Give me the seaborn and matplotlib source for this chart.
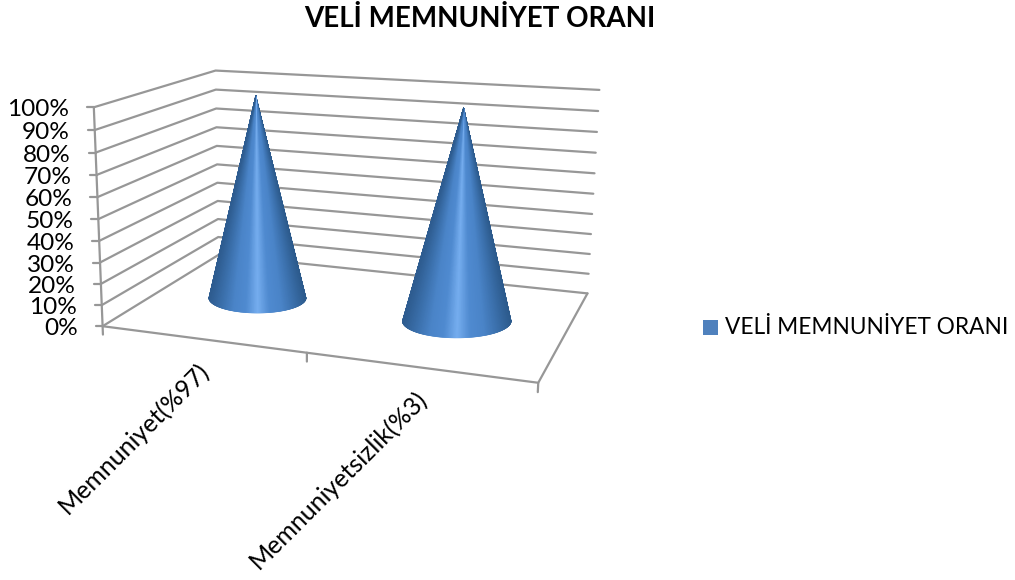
import numpy as np
import pandas as pd
import matplotlib
matplotlib.use('Agg')
import matplotlib.pyplot as plt
import seaborn as sns

#chart data
categories = ['Memnuniyet(%97)', 'Memnuniyetsizlik(%3)']
values = [98.5, 98.5]
y_ticks = [0, 10, 20, 30, 40, 50, 60, 70, 80, 90, 100]
series_name = 'VELİ MEMNUNİYET ORANI'
title = 'VELİ MEMNUNİYET ORANI'

#where the frame corners of the 3d box land on the picture (cat, value, depth) -> pixel
frame_box = [(0, 0, 0), (0, 100, 0), (0, 100, 1), (0, 0, 1), (2, 100, 1), (2, 0, 1), (2, 0, 0), (1, 0, 0)]
frame_px = [(104, 326), (92.5, 107), (217, 70.7), (217, 255), (599, 90), (588, 293), (538, 383), (307, 353)]

GRID = '#979797'
RADIUS_X = 0.258
BASE_FLAT = 0.31
shade = sns.blend_palette(['#2e5c90', '#3b70ac', '#4a84c8', '#4f8ad0', '#76aef0', '#4f8ad0', '#4a84c8', '#3b70ac', '#2c5a8c'],
                          as_cmap=True)


def fit_camera():
    #solve the projection matrix from the frame corners
    a, b = [], []
    for (x, v, z), (u, w) in zip(frame_box, frame_px):
        y = v / 100
        a.append([x, y, z, 1, 0, 0, 0, 0, -u * x, -u * y, -u * z])
        a.append([0, 0, 0, 0, x, y, z, 1, -w * x, -w * y, -w * z])
        b += [u, w]
    p = np.linalg.lstsq(np.array(a, dtype=float), np.array(b, dtype=float), rcond=None)[0]
    return np.append(p, 1).reshape(3, 4)


cam = fit_camera()


def project(x, v, z):
    x, v, z = np.broadcast_arrays(np.asarray(x, float), np.asarray(v, float) / 100, np.asarray(z, float))
    pts = np.stack([x, v, z, np.ones_like(x)])
    out = cam @ pts.reshape(4, -1)
    return out[0] / out[2], out[1] / out[2]


def frame_lines():
    #gridlines and edges as a long table for seaborn
    segs = []
    for v in y_ticks:
        segs.append([(0, v, 0), (0, v, 1), (2, v, 1)])
    segs.append([(0, 0, 0), (0, 100, 0)])
    segs.append([(0, 0, 0), (2, 0, 0), (2, 0, 1)])
    for c in range(3):
        segs.append([(c, 0, 0), (c, -4, 0)])
    rows = []
    for i, seg in enumerate(segs):
        for x, v, z in seg:
            px, py = project(x, v, z)
            rows.append({'seg': i, 'px': px[0], 'py': py[0]})
    return pd.DataFrame(rows)


def draw_cone(ax, pos, value):
    #base is kept flat on screen, width comes from the category axis
    cx, cy = project(pos, 0, 0.5)
    x1, _ = project(pos - RADIUS_X, 0, 0.5)
    x2, _ = project(pos + RADIUS_X, 0, 0.5)
    half = (x2[0] - x1[0]) / 2
    tip_x, tip_y = project(pos, value, 0.5)

    t = np.linspace(0, np.pi, 361)
    bx = cx[0] + half * np.cos(t)
    by = cy[0] + half * BASE_FLAT * np.sin(t)
    for i in range(len(t) - 1):
        c = shade((bx[i] - bx.min()) / (bx.max() - bx.min()))
        ax.fill([tip_x[0], bx[i], bx[i + 1]], [tip_y[0], by[i], by[i + 1]], color=c, lw=0.4, zorder=3)


def main():
    sns.set_theme(style='white')
    plt.rcParams['font.family'] = ['Lato', 'DejaVu Sans']

    fig = plt.figure(figsize=(10.15, 5.8), dpi=100)
    ax = fig.add_axes([0, 0, 1, 1])

    sns.lineplot(data=frame_lines(), x='px', y='py', units='seg', estimator=None, sort=False,
                 color=GRID, lw=1.6, legend=False, ax=ax, zorder=1)

    for v in y_ticks:
        px, py = project(0, v, 0)
        ax.plot([px[0] - 7, px[0]], [py[0], py[0]], color=GRID, lw=1.6, zorder=1)
        ax.text(px[0] - 25, py[0] + 2.5, f'{v}%', ha='right', va='center', fontsize=17.6, color='black')

    for i, (name, val) in enumerate(zip(categories, values)):
        draw_cone(ax, i + 0.5, val)
        px, py = project(i + 0.5, 0, 0)
        ax.text(px[0] + 4, py[0] + 28, name, rotation=45, rotation_mode='anchor', ha='right', va='center',
                fontsize=18, color='black')

    ax.add_patch(plt.Rectangle((703, 320), 15, 15, color='#4f81bd', lw=0))
    ax.text(725, 328, series_name, ha='left', va='center', fontsize=16.3, color='black')
    ax.text(480, 19, title, ha='center', va='center', fontsize=20, fontweight='bold', color='black')

    ax.set_xlim(0, 1015)
    ax.set_ylim(580, 0)
    ax.axis('off')
    fig.savefig('out.png', dpi=100)


if __name__ == '__main__':
    main()
